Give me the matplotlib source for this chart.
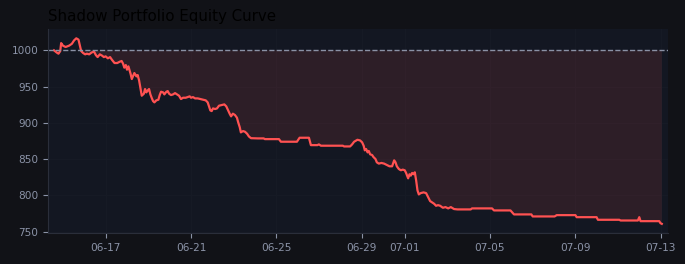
import pandas as pd
import numpy as np
import matplotlib
matplotlib.use("Agg")
import matplotlib.pyplot as plt
import matplotlib.dates as mdates

# hours since 2025-06-14 00:00 and equity value
hours = [
    14, 17, 19, 21, 22, 24, 27, 31, 34, 36.6, 39, 41.5, 43, 44.5, 46.7, 49,
    51, 53.5, 56.5, 59, 61, 63, 65.5, 68, 70, 72, 74.5, 77, 79, 82, 85, 88,
    90, 91.6, 93, 94.7, 96, 97.6, 100, 101.4, 103, 104.3, 106.6, 108, 109.6,
    111, 112.6, 115, 116.3, 117.8, 119.4, 120.8, 122.3, 124, 125.3, 126.8,
    129, 131.3, 132.8, 134.3, 136.6, 138, 140.3, 141.8, 143.3, 145.5, 147.8,
    150, 152.2, 154.5, 156.7, 159, 162, 164.3, 166.5, 168, 170.2, 172.5,
    175.5, 178.4, 181.5, 184.5, 186.7, 188.2, 189.7, 191.2, 192.7, 195,
    197.2, 199.4, 202.5, 205.4, 207.6, 210, 211.4, 213, 215, 217.4, 219.6,
    221, 222.7, 224, 226.4, 228.6, 231, 233, 235.4, 243, 249.6, 251, 266.8,
    269, 287, 290, 300.5, 302.7, 310, 311.7, 314, 338.6, 340, 346.8, 349,
    351.3, 355, 358, 360.3, 362, 363.3, 364.8, 366.4, 367.8, 369.3, 371.5,
    373, 375.3, 376.8, 379, 382, 385, 388, 391, 394, 396.3, 397.8, 399.3,
    401.5, 403.8, 406, 408.2, 409.7, 412, 413.5, 415, 416.5, 418, 419.5,
    421, 422.5, 424, 426.2, 429.3, 432.2, 434.4, 436.7, 439, 441.2, 443.4,
    445.6, 448, 451, 454, 457, 460, 463.6, 467.4, 482.3, 483.8, 506.3,
    508.5, 527, 531, 550.5, 552, 576.6, 579, 600, 601.4, 623.8, 625.3,
    649.3, 650.8, 670.2, 671.8, 673.2, 694.2, 695.6, 697.1,
]
equity = [
    1000, 997, 995.4, 999, 1010, 1006.5, 1004.6, 1006.5, 1009, 1013.8,
    1016.6, 1014.8, 1006.9, 999, 996.3, 994.5, 995.4, 994.5, 997.2, 998.2,
    993.5, 990.7, 994.5, 992.7, 990.7, 991.7, 989, 990.7, 987.1, 982.5,
    982.5, 984.4, 985.3, 981.6, 976.1, 979.7, 973.3, 977.9, 967.8, 960.4,
    965, 968.7, 964.1, 965.9, 958.6, 948.5, 937.4, 940.2, 946.6, 942,
    944.8, 946.6, 939.2, 933.7, 930, 928.2, 931, 931.9, 938.3, 942.9, 942,
    939.2, 942.9, 943.8, 940.2, 938.3, 939.2, 941, 939.2, 937.4, 932.8,
    934.6, 934.6, 935.5, 936.5, 934.6, 935.5, 933.7, 933.7, 932.8, 931.9,
    931, 928.2, 922.7, 917.1, 916.2, 919.9, 919, 919.9, 923.6, 924.5, 925.4,
    922.7, 916.2, 912.6, 908.9, 912.6, 910.7, 907, 900.6, 894.1, 886.8,
    888.6, 887.7, 884.9, 881.2, 878.8, 878.5, 878.5, 877.5, 877.5, 873.9,
    873.9, 879.4, 879.4, 869.2, 869.2, 870.2, 868.4, 868.4, 867.4, 867.4,
    870.2, 873.9, 876.6, 875.7, 873, 868.4, 862, 863.8, 859.2, 861.1, 856.5,
    855.6, 852.8, 850, 845.5, 843.7, 844.6, 843.7, 841.8, 840, 840, 848.2,
    845.5, 840, 836.3, 834.5, 835.4, 834.5, 830.8, 823.4, 829, 827.1, 830.8,
    829, 831.7, 820.5, 806.7, 801.2, 803, 804, 803, 797.5, 792, 790.1,
    788.3, 785.5, 786.4, 785.5, 782.8, 783.7, 781.9, 783.7, 781, 780.5,
    780.5, 781.9, 781.9, 779.1, 779.1, 773.6, 773.6, 770.8, 770.8, 772.6,
    772.6, 769.8, 769.8, 766.2, 766.2, 765.2, 765.2, 769.8, 764.3, 764.3,
    761.5, 760.6,
]
start_capital = 1000

dates = pd.Timestamp("2025-06-14") + pd.to_timedelta(hours, unit="h")
equity = np.array(equity)

fig_bg = "#111217"
ax_bg = "#131722"
text_col = "#8b93a7"

fig, ax = plt.subplots(figsize=(6.85, 2.64), dpi=100)
fig.patch.set_facecolor(fig_bg)
ax.set_facecolor(ax_bg)
fig.subplots_adjust(left=0.070, right=0.975, bottom=0.117, top=0.890)

ax.fill_between(dates, equity, start_capital, where=equity < start_capital,
                interpolate=True, color="#ef5350", alpha=0.12, linewidth=0)
ax.plot(dates, equity, color="#ff5252", linewidth=1.6)
ax.axhline(start_capital, color="#8a91a5", linestyle="--", linewidth=1)

ax.margins(x=0.01)
ax.xaxis.set_major_locator(mdates.DayLocator(bymonthday=[1, 5, 9, 13, 17, 21, 25, 29]))
ax.xaxis.set_major_formatter(mdates.DateFormatter("%m-%d"))

ax.grid(True, color="#171b26", linewidth=0.6)
ax.set_axisbelow(True)
ax.tick_params(colors=text_col, labelsize=7.6, length=3.5, width=0.8)
for side in ["top", "right"]:
    ax.spines[side].set_visible(False)
for side in ["left", "bottom"]:
    ax.spines[side].set_color("#2a2e3a")

ax.set_title("Shadow Portfolio Equity Curve", loc="left", fontsize=10.8, color="black")

fig.savefig("out.png", dpi=100, facecolor=fig_bg)
